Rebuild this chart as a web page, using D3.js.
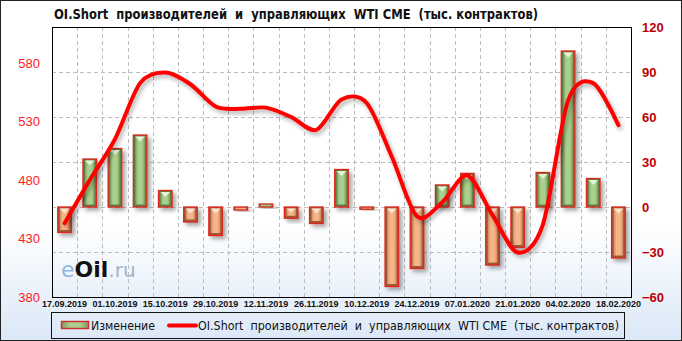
<!DOCTYPE html>
<html><head><meta charset="utf-8">
<script src="https://cdn.jsdelivr.net/npm/d3@7"></script>
<style>html,body{margin:0;padding:0;background:#fff}svg{display:block}</style>
</head><body>
<script>
const dates = ["17.09.2019","24.09.2019","01.10.2019","08.10.2019","15.10.2019","22.10.2019","29.10.2019","05.11.2019","12.11.2019","19.11.2019","26.11.2019","03.12.2019","10.12.2019","17.12.2019","24.12.2019","31.12.2019","07.01.2020","14.01.2020","21.01.2020","28.01.2020","04.02.2020","11.02.2020","18.02.2020"];
const changeValues = [-17, 32, 39, 48, 11, -10, -19, -2, 2, -7.5, -11, 25, -1.5, -53, -41, 14.7, 22.4, -38.7, -27, 23, 104, 19, -34];
const oiShortValues = [443, 480, 515, 563, 572, 562, 543, 541, 542, 534, 523, 549, 546, 500, 449, 461, 484, 450, 418, 442, 548, 563, 527];
const leftTicks = [380, 430, 480, 530, 580];
const rightTicks = [-60, -30, 0, 30, 60, 90, 120];
const titleText = "OI.Short  производителей  и  управляющих  WTI CME  (тыс. контрактов)";
const legendBarText = "Изменение";
const legendLineText = "OI.Short  производителей  и  управляющих  WTI CME  (тыс. контрактов)";

const W = 682, H = 341;
const L = 52, R = 631, T = 27, B = 297;

const svg = d3.select("body").append("svg").attr("width", W).attr("height", H);
const defs = svg.append("defs");

const bg = defs.append("linearGradient").attr("id","bg").attr("x1",0).attr("y1",0).attr("x2",0).attr("y2",1);
bg.append("stop").attr("offset","0").attr("stop-color","#ffffff");
bg.append("stop").attr("offset","0.66").attr("stop-color","#ffffff");
bg.append("stop").attr("offset","1").attr("stop-color","#dbe8f7");

function hgrad(id, edge, mid){
  const g = defs.append("linearGradient").attr("id",id).attr("x1",0).attr("y1",0).attr("x2",1).attr("y2",0);
  g.append("stop").attr("offset","0").attr("stop-color",edge);
  g.append("stop").attr("offset","0.3").attr("stop-color",mid);
  g.append("stop").attr("offset","0.7").attr("stop-color",mid);
  g.append("stop").attr("offset","1").attr("stop-color",edge);
}
hgrad("gGreen","#7e9c5e","#a9d08c");
hgrad("gOrange","#c98a62","#f7b587");

const sh = defs.append("filter").attr("id","shadow").attr("x","-50%").attr("y","-50%").attr("width","200%").attr("height","200%");
sh.append("feDropShadow").attr("dx",3).attr("dy",3).attr("stdDeviation",2).attr("flood-color","#000").attr("flood-opacity",0.35);
const lsh = defs.append("filter").attr("id","lshadow").attr("x","-10%").attr("y","-10%").attr("width","120%").attr("height","120%");
lsh.append("feDropShadow").attr("dx",2).attr("dy",3).attr("stdDeviation",2).attr("flood-color","#000").attr("flood-opacity",0.3);

svg.append("rect").attr("x",0.5).attr("y",0.5).attr("width",W-1).attr("height",H-1)
  .attr("fill","url(#bg)").attr("stroke","#222").attr("stroke-width",1);

const x = d3.scaleBand().domain(dates).range([L, R]).padding(0);
const yR = d3.scaleLinear().domain([-60, 120]).range([B, T]);
const yL = d3.scaleLinear().domain([380, 611]).range([B, T]);

// grid
const grid = svg.append("g").attr("stroke","#bdbdbd").attr("stroke-dasharray","4,3").attr("stroke-width",1);
dates.slice(1).forEach(d => {
  const gx = Math.round(x(d)) + 0.5;
  grid.append("line").attr("x1",gx).attr("x2",gx).attr("y1",T).attr("y2",B);
});
rightTicks.filter(t => t > -60 && t < 120).forEach(t => {
  const gy = Math.round(yR(t)) + 0.5;
  grid.append("line").attr("x1",L).attr("x2",R).attr("y1",gy).attr("y2",gy);
});

// watermark
const wm = svg.append("text").attr("x",61).attr("y",277).attr("font-family","Verdana, 'DejaVu Sans', sans-serif").attr("font-size",22);
wm.append("tspan").attr("fill","#8fb8de").text("e");
wm.append("tspan").attr("fill","#111").attr("font-weight","bold").text("Oil");
wm.append("tspan").attr("fill","#9fb4c8").attr("font-size",20).text(".ru");

// bars
const bw = x.bandwidth() * 0.54;
const bars = svg.append("g");
changeValues.forEach((v, i) => {
  const cx = x(dates[i]) + x.bandwidth()/2;
  const y0 = yR(0), y1 = yR(v);
  const top = Math.min(y0, y1), h = Math.max(Math.abs(y1 - y0), 2);
  const pos = v >= 0;
  const g = bars.append("g").attr("filter","url(#shadow)");
  g.append("rect").attr("x",cx - bw/2).attr("y",top).attr("width",bw).attr("height",h)
    .attr("fill", pos ? "#5f7d44" : "#9a5a38").attr("stroke","#e0261c").attr("stroke-width",1.3);
  if (h > 5) {
    g.append("rect").attr("x",cx - bw/2 + 2).attr("y",top + 1.5).attr("width",bw - 4).attr("height",h - 4)
      .attr("fill", pos ? "url(#gGreen)" : "url(#gOrange)");
    const th = Math.min(5, (h - 4) / 2);
    g.append("path").attr("d", `M${cx - bw/2 + 2},${top + 1.5} L${cx + bw/2 - 2},${top + 1.5} L${cx},${top + 1.5 + th} Z`)
      .attr("fill", pos ? "#e4f2d6" : "#fde3cf");
  } else {
    g.append("rect").attr("x",cx - bw/2 + 1.5).attr("y",top + 0.8).attr("width",bw - 3).attr("height",Math.max(h - 1.6, 0.5))
      .attr("fill", pos ? "#a9d08c" : "#f7b587");
  }
});

// line
const line = d3.line()
  .x((d, i) => x(dates[i]) + x.bandwidth()/2)
  .y(d => yL(d))
  .curve(d3.curveCardinal.tension(0.1));
svg.append("path").datum(oiShortValues).attr("d", line).attr("fill","none")
  .attr("stroke","#ff0000").attr("stroke-width",4).attr("stroke-linecap","round").attr("filter","url(#lshadow)");

// frame
svg.append("rect").attr("x",L + 0.5).attr("y",T + 0.5).attr("width",R - L).attr("height",B - T)
  .attr("fill","none").attr("stroke","#000").attr("stroke-width",1);

// left axis
const axL = svg.append("g").attr("transform",`translate(${L},0)`)
  .call(d3.axisLeft(yL).tickValues(leftTicks).tickSize(0).tickPadding(12).tickFormat(d3.format("d")));
axL.select(".domain").remove();
axL.selectAll("text").attr("fill","#ff1a1a").attr("font-size",13).attr("font-family","'Liberation Sans', Arial, sans-serif");

// right axis
const axR = svg.append("g").attr("transform",`translate(${R},0)`)
  .call(d3.axisRight(yR).tickValues(rightTicks).tickSize(0).tickPadding(11).tickFormat(d3.format("d")));
axR.select(".domain").remove();
axR.selectAll("text").attr("fill","#c00000").attr("font-size",13).attr("font-weight","bold").attr("font-family","'Liberation Sans', Arial, sans-serif");

// x axis
const axX = svg.append("g").attr("transform",`translate(0,${B})`)
  .call(d3.axisBottom(x).tickValues(dates.filter((d, i) => i % 2 === 0)).tickSize(0).tickPadding(4));
axX.select(".domain").remove();
axX.selectAll("text").attr("fill","#111").attr("font-size",9).attr("font-weight","bold").attr("font-family","'Liberation Sans', Arial, sans-serif");

// title
svg.append("text").attr("x",54).attr("y",19).attr("font-family","'Liberation Sans Narrow','DejaVu Sans Condensed','Liberation Sans',sans-serif")
  .attr("font-size",14).attr("font-weight","bold").attr("fill","#111").style("white-space","pre")
  .attr("textLength",484).attr("lengthAdjust","spacingAndGlyphs").text(titleText);

// legend
const lg = svg.append("g");
lg.append("rect").attr("x",51.5).attr("y",312.5).attr("width",573).attr("height",26).attr("fill","none").attr("stroke","#111");
lg.append("rect").attr("x",61.5).attr("y",321.5).attr("width",27).attr("height",7).attr("fill","url(#gGreen)").attr("stroke","#d03030").attr("stroke-width",1.5);
lg.append("text").attr("x",91).attr("y",330).attr("font-size",13).attr("fill","#111").attr("font-family","'DejaVu Sans Condensed','Liberation Sans',sans-serif")
  .attr("textLength",64).attr("lengthAdjust","spacingAndGlyphs").text(legendBarText);
lg.append("line").attr("x1",169).attr("x2",196).attr("y1",325.5).attr("y2",325.5).attr("stroke","#ff0000").attr("stroke-width",4).attr("stroke-linecap","round");
lg.append("text").attr("x",198).attr("y",330).attr("font-size",13).attr("fill","#111").attr("font-family","'DejaVu Sans Condensed','Liberation Sans',sans-serif")
  .style("white-space","pre").attr("textLength",421).attr("lengthAdjust","spacingAndGlyphs").text(legendLineText);
</script>
</body></html>
